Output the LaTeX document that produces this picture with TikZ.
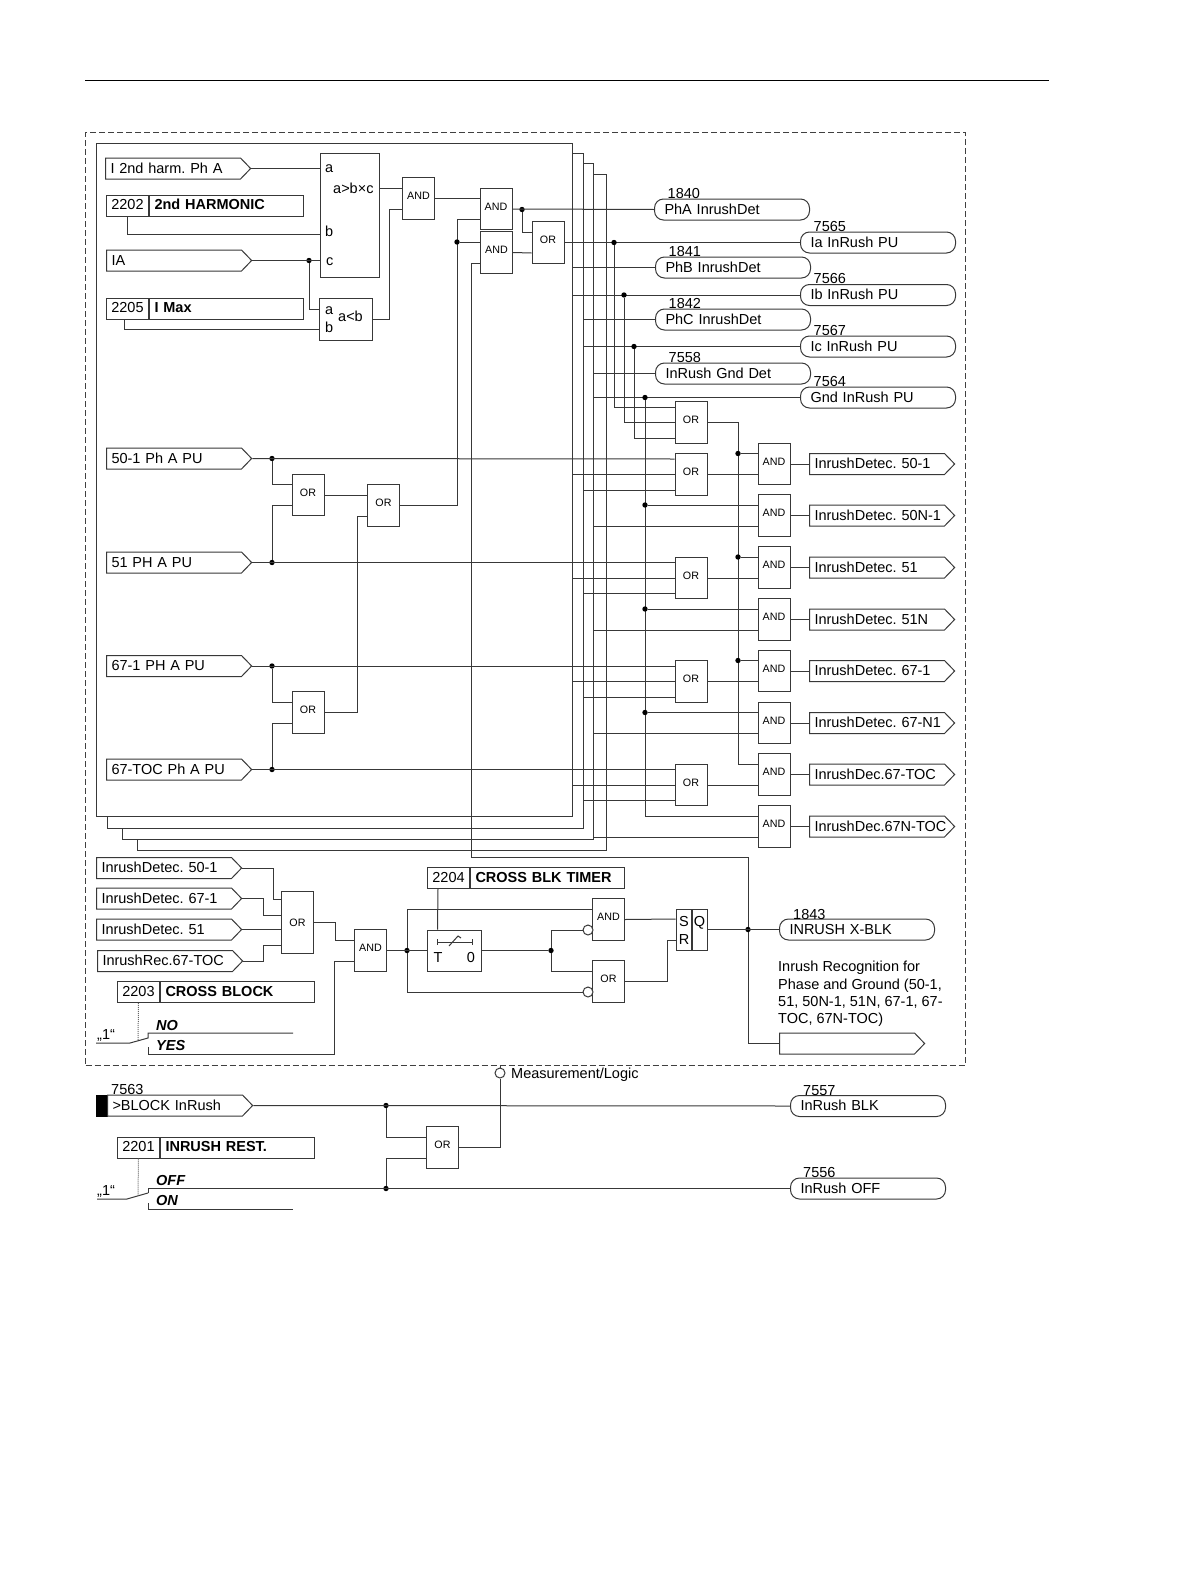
\documentclass[tikz,border=0pt]{standalone}
\usepackage{fontspec}
\setmainfont{Liberation Sans}
\usepackage{xcolor}
\usetikzlibrary{shapes.symbols}

\begin{document}
\frenchspacing
\begin{tikzpicture}[
    x=1pt, y=-1pt,
    font=\fontsize{14.5}{17.3}\selectfont,
    wire/.style={draw=black!78, line width=1pt},
    gate/.style={rectangle, draw=black!78, fill=white, line width=1pt, minimum width=32pt, minimum height=41.5pt, inner sep=0pt,
        font=\fontsize{10.7}{12}\selectfont, text height=8pt, text depth=6pt},
    pagebox/.style={rectangle, draw=black!78, fill=white, line width=1pt, anchor=north west, inner sep=0pt},
    flag/.style={signal, signal to=east, signal pointer angle=92, draw=black!78, fill=white, line width=1pt, anchor=west,
        minimum height=21pt, inner ysep=0pt, inner xsep=5pt, text width=125pt, text height=10pt, text depth=1pt,
        execute at begin node={\hbox to 125pt\bgroup}, execute at end node={\hss\egroup}},
    pill/.style={rectangle, draw=black!78, fill=white, line width=1pt, rounded corners=9pt, anchor=west,
        minimum height=21pt, inner ysep=0pt, inner xsep=10pt, text width=135pt, text height=10pt, text depth=0.5pt},
    parnum/.style={rectangle, draw=black!78, fill=white, line width=1pt, anchor=west, minimum width=42pt, minimum height=21pt, inner sep=0pt,
        text height=10pt, text depth=2pt},
    parname/.style={rectangle, draw=black!78, fill=white, line width=1pt, anchor=west, minimum height=21pt, inner ysep=0pt, inner xsep=5pt,
        text width=144pt, text height=10pt, text depth=2pt, font=\fontsize{14.5}{17}\selectfont\bfseries},
    junction/.style={circle, fill=black, inner sep=0pt, minimum size=5.4pt},
    invert/.style={circle, draw=black!78, fill=white, line width=1pt, inner sep=0pt, minimum size=10pt},
    lbl/.style={anchor=west, inner sep=0pt, text height=10pt, text depth=0pt},
    setting/.style={anchor=west, inner sep=0pt, font=\fontsize{14.5}{17}\selectfont\bfseries\itshape},
    setdot/.style={draw=black!60, line width=1pt, densely dotted}
]
    \useasboundingbox (0,0) rectangle (1191,1587);

    % --- 1. Page Rule and Dashed Frame ---
    \draw[black, line width=0.8pt] (85,80) -- (1049,80);
    \node[rectangle, draw=black!75, line width=1pt, dash pattern=on 6pt off 3pt, anchor=north west,
        minimum width=880pt, minimum height=932.5pt, inner sep=0pt] (frame) at (85,132) {};

    % --- 2. Stacked Phase Pages ---
    \node[pagebox, minimum width=469pt, minimum height=676pt] (page4) at (137,174) {};
    \node[pagebox, minimum width=471pt, minimum height=676pt] (page3) at (122,163) {};
    \node[pagebox, minimum width=476pt, minimum height=675pt] (page2) at (107,153) {};
    \node[pagebox, minimum width=476pt, minimum height=673pt] (page1) at (96,143) {};

    % --- 3. Input Flags and Settings ---
    \node[flag] (inH) at (105,168.5) {I 2nd harm. Ph A};
    \node[flag] (inIA) at (106,260.5) {IA};
    \node[flag] (in501) at (106,458.5) {50-1 Ph A PU};
    \node[flag] (in51) at (106,562.5) {51 PH A PU};
    \node[flag] (in671) at (106,666) {67-1 PH A PU};
    \node[flag] (inTOC) at (106,769.5) {67-TOC Ph A PU};

    \foreach \nm/\x/\y/\txt in {2202/106/205.5/2nd HARMONIC, 2205/106/308.5/I Max, 2204/427/878/CROSS BLK TIMER, 2203/117/992/CROSS BLOCK, 2201/117/1147.5/INRUSH REST.} {
        \node[parnum] (p\nm) at (\x,\y) {\nm};
        \node[parname] (n\nm) at (p\nm.east) {\txt};
    }

    % --- 4. Comparators ---
    \node[rectangle, draw=black!78, line width=1pt, minimum width=59pt, minimum height=124pt, inner sep=0pt] (cmpA) at (349.5,215) {};
    \node[rectangle, draw=black!78, line width=1pt, minimum width=53pt, minimum height=42pt, inner sep=0pt] (cmpB) at (345.5,319) {};
    \node[lbl] (cmpAa) at (325,167) {a};
    \node[lbl] (cmpAt) at (333,188) {a>b×c};
    \node[lbl] (cmpAb) at (325,231) {b};
    \node[lbl] (cmpAc) at (326,260) {c};
    \node[lbl] (cmpBa) at (325,309) {a};
    \node[lbl] (cmpBt) at (338,316) {a<b};
    \node[lbl] (cmpBb) at (325,327) {b};

    % --- 5. Harmonic Gates ---
    \node[gate] (and0) at (418.5,198.5) {AND};
    \node[gate] (and1) at (496,209) {AND};
    \node[gate] (and2) at (496.5,252.5) {AND};
    \node[gate] (orT) at (548,242.5) {OR};
    \node[gate] (orA) at (308,495) {OR};
    \node[gate] (orC) at (383.5,505.5) {OR};
    \node[gate] (orD) at (308,712.5) {OR};

    % --- 6. Outputs at the Top ---
    \foreach \n/\x/\y/\num/\txt in {PhA/654/209.5/1840/PhA InrushDet, Ia/800/242.5/7565/Ia InRush PU, PhB/655/267.5/1841/PhB InrushDet, Ib/800/295/7566/Ib InRush PU, PhC/655/319.5/1842/PhC InrushDet, Ic/800/346.5/7567/Ic InRush PU, Gnd/655/373.5/7558/InRush Gnd Det, GndP/800/397.5/7564/Gnd InRush PU} {
        \node[pill] (p\n) at (\x,\y) {\txt};
        \node[lbl] (num\n) at ([xshift=13.5pt,yshift=16.5pt]p\n.west) {\num};
    }

    % --- 7. Right Hand Gates ---
    \foreach \n/\y in {0/422.5, 1/474.5, 2/578, 3/681.5, 4/785}
        \node[gate] (orB\n) at (691,\y) {OR};

    \foreach \n/\y/\txt in {1/464/InrushDetec. 50-1, 2/515.5/InrushDetec. 50N-1, 3/567.5/InrushDetec. 51, 4/619.5/InrushDetec. 51N, 5/671/InrushDetec. 67-1, 6/723/InrushDetec. 67-N1, 7/774.5/InrushDec.67-TOC, 8/826.5/InrushDec.67N-TOC} {
        \node[gate] (andC\n) at (774,\y) {AND};
        \node[flag] (det\n) at (809,\y) {\txt};
        \draw[wire] (andC\n.east) -- (det\n.west);
    }

    % --- 8. Cross Block Section ---
    \node[flag] (inA) at (96,868) {InrushDetec. 50-1};
    \node[flag] (inB) at (96,898.5) {InrushDetec. 67-1};
    \node[flag] (inC) at (96,929.5) {InrushDetec. 51};
    \node[flag] (inD) at (97,961) {InrushRec.67-TOC};
    \node[gate, minimum height=62pt, text depth=0pt] (orX) at (297.5,922) {OR};
    \node[gate] (andX) at (370.5,950.5) {AND};
    \node[gate] (andY) at (608.5,919.5) {AND};
    \node[gate] (orY) at (608.5,981.5) {OR};
    \node[invert] (notA) at (588,930) {};
    \node[invert] (notB) at (588,992) {};

    \node[rectangle, draw=black!78, line width=1pt, minimum width=54pt, minimum height=41pt, inner sep=0pt] (timer) at (454,950.5) {};
    \node[inner sep=0pt, text height=10pt, text depth=0pt] (timerT) at (438,957.5) {T};
    \node[inner sep=0pt, text height=10pt, text depth=0pt] (timer0) at (471,957.5) {0};
    \draw[wire] (437,939) -- (437,945) (437,942) -- (472,942) (472,939) -- (472,945);
    \draw[wire] (449,946) -- (458,936) -- (461,938);

    \node[rectangle, draw=black!78, line width=1pt, minimum width=16pt, minimum height=41pt, inner sep=0pt] (srL) at (684,929.5) {};
    \node[rectangle, draw=black!78, line width=1pt, minimum width=15.5pt, minimum height=41pt, inner sep=0pt] (srQ) at (699.5,929.5) {};
    \node[inner sep=0pt, text height=10pt, text depth=0pt] (srS) at (684,921) {S};
    \node[inner sep=0pt, text height=10pt, text depth=0pt] (srR) at (684,939.5) {R};
    \node[inner sep=0pt, text height=10pt, text depth=0pt] (srO) at (699.5,921) {Q};

    \node[pill] (pX) at (779,929.5) {INRUSH X-BLK};
    \node[lbl] (numX) at (793,914) {1843};
    \node[anchor=west, inner sep=0pt, align=left] (note) at (778,994) {Inrush Recognition for\\Phase and Ground (50-1,\\51, 50N-1, 51N, 67-1, 67-\\TOC, 67N-TOC)};
    \node[flag] (flagX) at (779,1043.5) {};

    % --- 9. Block Section ---
    \node[rectangle, draw=black, fill=black, minimum width=11pt, minimum height=21pt, inner sep=0pt] (blk) at (101.5,1105.5) {};
    \node[flag] (inBlk) at (107,1105.5) {>BLOCK InRush};
    \node[lbl] (numBlk) at (111,1089) {7563};
    \node[gate] (orM) at (442.5,1147.5) {OR};
    \node[invert] (meas) at (500,1073) {};
    \node[lbl] (measTxt) at (511,1073) {Measurement/Logic};
    \node[pill] (pBlk) at (790,1106) {InRush BLK};
    \node[lbl] (numB) at (803,1090) {7557};
    \node[pill] (pOff) at (790,1188.5) {InRush OFF};
    \node[lbl] (numO) at (803,1172) {7556};

    % --- 10. Switches ---
    \coordinate (swA1) at (96,1043);
    \coordinate (swA2) at (130,1043);
    \coordinate (swA3) at (148,1038);
    \coordinate (swA4) at (293,1033);
    \coordinate (swA5) at (148,1047);
    \coordinate (swA6) at (334,1054);
    \coordinate (swA7) at (138,1041);
    \coordinate (swB1) at (97,1199);
    \coordinate (swB2) at (127,1199);
    \coordinate (swB3) at (148,1193);
    \coordinate (swB5) at (148,1203);
    \coordinate (swB6) at (293,1209);
    \coordinate (swB7) at (138,1196);
    \node[lbl] (oneA) at (97,1034) {„1“};
    \node[lbl] (oneB) at (97,1190) {„1“};
    \node[setting] (txtNo) at (156,1025) {NO};
    \node[setting] (txtYes) at (156,1045) {YES};
    \node[setting] (txtOff) at (156,1180) {OFF};
    \node[setting] (txtOn) at (156,1200) {ON};
    \draw[wire] (swA1) -- (swA2) -- (swA3) |- (swA4);
    \draw[wire] (swB1) -- (swB2) -- (swB3);
    \draw[wire] (swB5) |- (swB6);
    \draw[setdot] (p2203.south) -- (swA7);
    \draw[setdot] (p2201.south) -- (swB7);

    % --- 11. Connections, Upper Left ---
    \draw[wire] (inH.east) -- (inH.east -| cmpA.west);
    \draw[wire] (p2202.south) |- (cmpA.west |- 0,234);
    \node[junction] (jIA) at (309,260.5) {};
    \draw[wire] (inIA.east) -- (inIA.east -| cmpA.west);
    \draw[wire] (jIA) |- (cmpB.west |- 0,309);
    \draw[wire] ([xshift=-3pt]p2205.south) |- (cmpB.west |- 0,329);
    \draw[wire] (cmpA.east |- 0,188) -- ([yshift=10.5pt]and0.west);
    \draw[wire] (cmpB.east) -- ++(17,0) |- ([yshift=-10.5pt]and0.west);
    \draw[wire] (and0.east) -- ([yshift=10.5pt]and1.west);
    \node[junction] (jAnd) at (522,209.5) {};
    \draw[wire] (and1.east) -- (pPhA.west);
    \draw[wire] (jAnd) |- ([yshift=10.5pt]orT.west);
    \draw[wire] (and2.east) -- ([yshift=-10.5pt]orT.west);
    \draw[wire] (orT.east) -- (pIa.west);

    % --- 12. Connections, Overcurrent Inputs ---
    \node[junction] (j501) at (272,458.5) {};
    \node[junction] (j51) at (272,562.5) {};
    \node[junction] (j671) at (272,666) {};
    \node[junction] (jTOC) at (272,769.5) {};
    \draw[wire] (in501.east) -- ([yshift=15.5pt]orB1.west);
    \draw[wire] (in51.east) -- ([yshift=15.5pt]orB2.west);
    \draw[wire] (in671.east) -- ([yshift=15.5pt]orB3.west);
    \draw[wire] (inTOC.east) -- ([yshift=15.5pt]orB4.west);
    \draw[wire] (j501) |- ([yshift=10.5pt]orA.west);
    \draw[wire] (j51) |- ([yshift=-10.5pt]orA.west);
    \draw[wire] (j671) |- ([yshift=10.5pt]orD.west);
    \draw[wire] (jTOC) |- ([yshift=-10.5pt]orD.west);
    \draw[wire] (orA.east) -- ([yshift=10.5pt]orC.west);
    \draw[wire] (orD.east) -- ++(33,0) |- ([yshift=-10.5pt]orC.west);
    \draw[wire] (orC.east) -- ++(57.5,0) |- ([yshift=-10.5pt]and1.west);
    \node[junction] (jOr) at (457,242) {};
    \draw[wire] (jOr) -- ([yshift=10.5pt]and2.west);

    % --- 13. Connections, Page Outputs ---
    \draw[wire] (pPhB.west -| page1.east) -- (pPhB.west);
    \draw[wire] (pIb.west -| page1.east) -- (pIb.west);
    \draw[wire] (pPhC.west -| page2.east) -- (pPhC.west);
    \draw[wire] (pIc.west -| page2.east) -- (pIc.west);
    \draw[wire] (pGnd.west -| page3.east) -- (pGnd.west);
    \draw[wire] (pGndP.west -| page3.east) -- (pGndP.west);

    \node[junction] (jIa) at (614,242.5) {};
    \node[junction] (jIb) at (624,295) {};
    \node[junction] (jIc) at (634,346.5) {};
    \node[junction] (jGn) at (645,397.5) {};
    \draw[wire] (jIa) |- ([yshift=15.5pt]orB0.west);
    \draw[wire] (jIb) |- (orB0.west);
    \draw[wire] (jIc) |- ([yshift=-15.5pt]orB0.west);
    \draw[wire] (jGn) |- ([yshift=10.5pt]andC8.west);

    \foreach \n in {1,2,3,4} {
        \draw[wire] (orB\n.west -| page1.east) -- (orB\n.west);
        \draw[wire] ([yshift=-15.5pt]orB\n.west -| page2.east) -- ([yshift=-15.5pt]orB\n.west);
    }
    \draw[wire] (orB1.east) -- ([yshift=-10.5pt]andC1.west);
    \draw[wire] (orB2.east) -- ([yshift=-10.5pt]andC3.west);
    \draw[wire] (orB3.east) -- ([yshift=-10.5pt]andC5.west);
    \draw[wire] (orB4.east) -- ([yshift=-10.5pt]andC7.west);

    \coordinate (busOr) at (738,422.5);
    \draw[wire] (orB0.east) -- (busOr) |- ([yshift=10.5pt]andC7.west);
    \foreach \n in {1,3,5} {
        \node[junction] (jBus\n) at ([yshift=10.5pt]andC\n.west -| busOr) {};
        \draw[wire] (jBus\n) -- ([yshift=10.5pt]andC\n.west);
    }
    \foreach \n in {2,4,6} {
        \node[junction] (jGnd\n) at ([yshift=10.5pt]andC\n.west -| jGn) {};
        \draw[wire] (jGnd\n) -- ([yshift=10.5pt]andC\n.west);
    }
    \foreach \n in {2,4,6,8}
        \draw[wire] ([yshift=-10.5pt]andC\n.west -| page3.east) -- ([yshift=-10.5pt]andC\n.west);

    % --- 14. Connections, Cross Block ---
    \coordinate (crossA) at (471,857);
    \coordinate (crossB) at (748,857);
    \draw[wire] ([yshift=-10.5pt]and2.west) -| (crossA) -- (crossB) |- (flagX.west);

    \draw[wire] (inA.east) -- ++(31,0) |- ([yshift=23pt]orX.west);
    \draw[wire] (inB.east) -- ++(21,0) |- ([yshift=7pt]orX.west);
    \draw[wire] (inC.east) -- (inC.east -| orX.west);
    \draw[wire] (inD.east) -- ++(20,0) |- ([yshift=-23pt]orX.west);
    \draw[wire] (orX.east) -- ++(21,0) |- ([yshift=10.5pt]andX.west);
    \draw[wire] (swA5) |- (swA6) |- ([yshift=-10.5pt]andX.west);

    \node[junction] (jT) at (407,950.5) {};
    \draw[wire] (andX.east) -- (timer.west);
    \draw[wire] (jT) |- ([yshift=10.5pt]andY.west);
    \draw[wire] (jT) |- (notB.west);
    \draw[wire] ([xshift=-10.5pt]p2204.south) -- ([xshift=-16.5pt]timer.north);
    \node[junction] (jS) at (551,950.5) {};
    \draw[wire] (timer.east) -- (jS);
    \draw[wire] (jS) |- (notA.west);
    \draw[wire] (jS) |- ([yshift=10.5pt]orY.west);
    \draw[wire] (andY.east) -- ([yshift=10.5pt]srL.west);
    \draw[wire] (orY.east) -- ++(42,0) |- ([yshift=-10.5pt]srL.west);
    \node[junction] (jQ) at (748,929.5) {};
    \draw[wire] (srQ.east) -- (pX.west);

    % --- 15. Connections, Block ---
    \node[junction] (jBlk) at (386,1105.5) {};
    \node[junction] (jOff) at (386,1188.5) {};
    \draw[wire] (inBlk.east) -- (pBlk.west);
    \draw[wire] (swB3) |- (pOff.west);
    \draw[wire] (jBlk) |- ([yshift=10.5pt]orM.west);
    \draw[wire] (jOff) |- ([yshift=-10.5pt]orM.west);
    \draw[wire] (orM.east) -| (meas.south);
    \draw[wire] (meas.north) -- (meas.north |- frame.south);

\end{tikzpicture}
\end{document}
